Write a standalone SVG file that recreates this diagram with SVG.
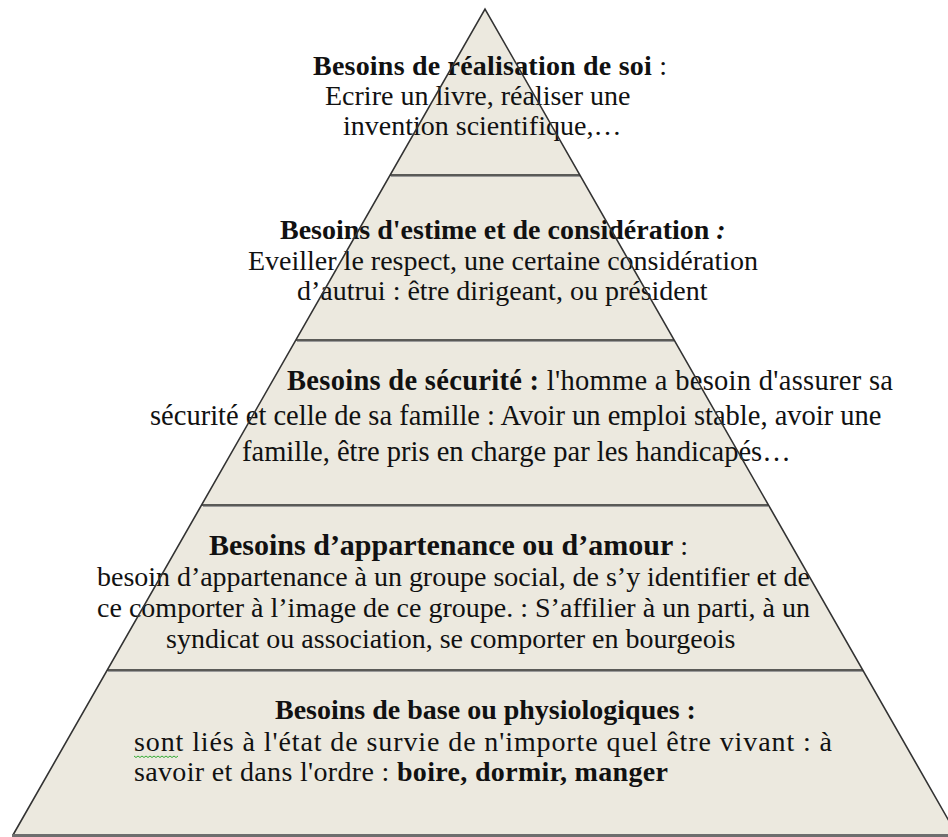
<svg xmlns="http://www.w3.org/2000/svg" width="948" height="837" viewBox="0 0 948 837">
<style>
.tier{fill:#ECE9DF;stroke:none}
.sep{stroke:#2a2a2a;stroke-width:1.6}
.sep2{stroke:#9a9a9a;stroke-width:1.2}
.side{fill:none;stroke:#333;stroke-width:1.6}
text{font-family:"Liberation Serif","Times New Roman",serif;font-size:28px;fill:#111}
.b{font-weight:bold}
.t3{font-size:28.5px}
</style>
<rect width="948" height="837" fill="#fff"/>
<g id="tier1">
<polygon class="tier" points="485,9 580,175 390,175"/>
<text x="313" y="75" textLength="354" lengthAdjust="spacing"><tspan class="b">Besoins de réalisation de soi</tspan> :</text>
<text x="325" y="105">Ecrire un livre, réaliser une</text>
<text x="343" y="135">invention scientifique,…</text>
</g>
<g id="tier2">
<polygon class="tier" points="390,175 580,175 674,340 296,340"/>
<text x="280" y="239" class="b">Besoins d'estime et de considération <tspan font-style="italic">:</tspan></text>
<text x="248" y="270">Eveiller le respect, une certaine considération</text>
<text x="297" y="300">d’autrui : être dirigeant, ou président</text>
</g>
<g id="tier3">
<polygon class="tier" points="296,340 674,340 768,505 202,505"/>
<text x="287" y="390" class="t3" textLength="606" lengthAdjust="spacing"><tspan class="b">Besoins de sécurité :</tspan> l'homme a besoin d'assurer sa</text>
<text x="150" y="425" class="t3">sécurité et celle de sa famille : Avoir un emploi stable, avoir une</text>
<text x="242" y="461" class="t3">famille, être pris en charge par les handicapés…</text>
</g>
<g id="tier4">
<polygon class="tier" points="202,505 768,505 863,670 107,670"/>
<text x="209" y="555"><tspan class="b" font-size="30">Besoins d’appartenance ou d’amour</tspan> :</text>
<text x="97" y="586" textLength="713" lengthAdjust="spacing">besoin d’appartenance à un groupe social, de s’y identifier et de</text>
<text x="97" y="617" textLength="713" lengthAdjust="spacing">ce comporter à l’image de ce groupe. : S’affilier à un parti, à un</text>
<text x="166" y="648">syndicat ou association, se comporter en bourgeois</text>
</g>
<g id="tier5">
<polygon class="tier" points="107,670 863,670 957,835 13,835"/>
<text x="275" y="719" class="b">Besoins de base ou physiologiques :</text>
<text x="134" y="751" textLength="698" lengthAdjust="spacing">sont liés à l'état de survie de n'importe quel être vivant : à</text>
<text x="134" y="781" textLength="534" lengthAdjust="spacing">savoir et dans l'ordre : <tspan class="b">boire, dormir, manger</tspan></text>
<path d="M134,756 l2,1.5 l2,-1.5 l2,1.5 l2,-1.5 l2,1.5 l2,-1.5 l2,1.5 l2,-1.5 l2,1.5 l2,-1.5 l2,1.5 l2,-1.5 l2,1.5 l2,-1.5 l2,1.5 l2,-1.5 l2,1.5 l2,-1.5 l2,1.5 l2,-1.5 l2,1.5 l2,-1.5" fill="none" stroke="#3a3" stroke-width="1"/>
</g>
<g id="outline">
<line class="sep2" x1="391" y1="176.5" x2="580" y2="176.5"/>
<line class="sep" x1="390" y1="175" x2="580" y2="175"/>
<line class="sep2" x1="297" y1="341.5" x2="674" y2="341.5"/>
<line class="sep" x1="296" y1="340" x2="674" y2="340"/>
<line class="sep2" x1="203" y1="506.5" x2="768" y2="506.5"/>
<line class="sep" x1="202" y1="505" x2="768" y2="505"/>
<line class="sep2" x1="108" y1="671.5" x2="863" y2="671.5"/>
<line class="sep" x1="107" y1="670" x2="863" y2="670"/>
<polyline class="side" points="13,835 485,9 957,835"/>
<line x1="12" y1="835.5" x2="948" y2="835.5" stroke="#6e6e6e" stroke-width="3"/>
</g>
</svg>
